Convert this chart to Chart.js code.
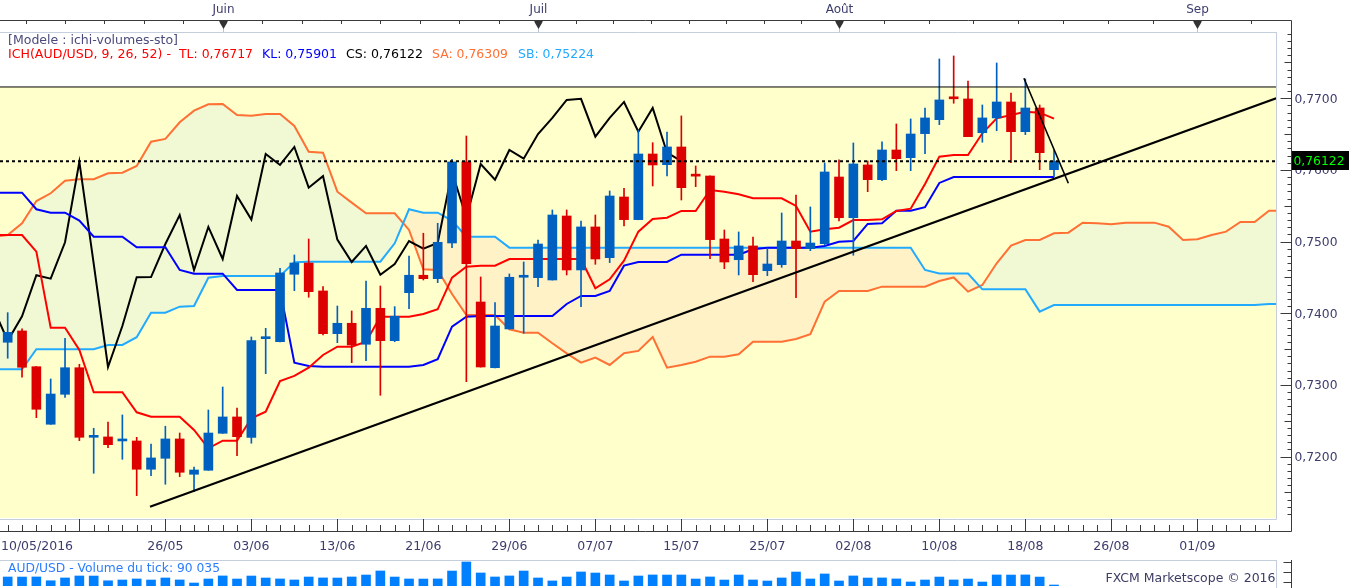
<!DOCTYPE html>
<html><head><meta charset="utf-8">
<script src="https://cdn.jsdelivr.net/npm/chart.js@4.4.0/dist/chart.umd.min.js"></script>
<style>
html,body{margin:0;padding:0;background:#fff;width:1349px;height:588px;overflow:hidden}
#main{position:absolute;left:0;top:0}
#vol{position:absolute;left:0;top:560px}
</style></head><body>
<canvas id="main" width="1349" height="560"></canvas>
<canvas id="vol" width="1349" height="28"></canvas>
<script>
// ---------- DATA ----------
const dates = ['10/05','11/05','12/05','13/05','16/05','17/05','18/05','19/05','20/05','23/05','24/05','25/05','26/05','27/05','30/05','31/05',
'01/06','02/06','03/06','06/06','07/06','08/06','09/06','10/06','13/06','14/06','15/06','16/06','17/06','20/06','21/06','22/06','23/06','24/06','27/06','28/06','29/06','30/06',
'01/07','04/07','05/07','06/07','07/07','08/07','11/07','12/07','13/07','14/07','15/07','18/07','19/07','20/07','21/07','22/07','25/07','26/07','27/07','28/07','29/07',
'01/08','02/08','03/08','04/08','05/08','08/08','09/08','10/08','11/08','12/08','15/08','16/08','17/08','18/08','19/08','22/08'];

const openP = [null,
0.73596,0.73754,0.73255,0.72452,0.72870,0.73241,0.72270,0.72275,0.72219,0.72219,
0.71824,0.71977,0.72247,0.71754,0.71810,0.72326,0.72554,0.72270,0.73646,0.73604,
0.74545,0.74702,0.74312,0.73716,0.73861,0.73568,0.74070,0.73618,0.74288,0.74531,
0.74483,0.74981,0.76112,0.74158,0.73241,0.73782,0.74503,0.74497,0.74465,0.75358,
0.74605,0.75205,0.74776,0.75623,0.75307,0.76223,0.76074,0.76321,0.75916,0.75916,
0.75037,0.74748,0.74940,0.74595,0.74679,0.75009,0.74902,0.74972,0.75902,0.75334,
0.76070,0.75865,0.76279,0.76172,0.76507,0.76702,0.76995,0.76991,0.76520,0.76726,
0.76949,0.76534,0.76865,0.76004];
const highP = [null,
0.74009,0.73782,0.73258,0.73084,0.73652,0.73289,0.72396,0.72484,0.72582,0.72270,
0.72177,0.72424,0.72330,0.71856,0.72651,0.72972,0.72679,0.73670,0.73791,0.74628,
0.74814,0.75037,0.74372,0.74102,0.74033,0.74451,0.74381,0.74093,0.74800,0.75117,
0.75256,0.76149,0.76474,0.74507,0.74148,0.74549,0.74716,0.75023,0.75442,0.75442,
0.75288,0.75372,0.75707,0.75745,0.76558,0.76381,0.76530,0.76754,0.76056,0.75918,
0.75163,0.75135,0.75065,0.74912,0.75400,0.75651,0.75484,0.76098,0.76140,0.76377,
0.76126,0.76391,0.76642,0.76712,0.76865,0.77549,0.77591,0.77242,0.76907,0.77493,
0.77074,0.77270,0.76907,0.76279];
const lowP = [null,
0.73373,0.73108,0.72544,0.72450,0.72828,0.72223,0.71768,0.72125,0.71963,0.71456,
0.71735,0.71615,0.71721,0.71511,0.71808,0.72324,0.72014,0.72187,0.73158,0.73602,
0.74316,0.74224,0.73698,0.73590,0.73311,0.73339,0.72856,0.73604,0.74065,0.74465,
0.74428,0.74916,0.73046,0.73249,0.73239,0.73780,0.73722,0.74372,0.74463,0.74535,
0.74093,0.74684,0.74707,0.75219,0.75305,0.75777,0.75916,0.75581,0.75767,0.74762,
0.74623,0.74535,0.74441,0.74525,0.74642,0.74218,0.74874,0.74949,0.75288,0.74810,
0.75697,0.75851,0.75990,0.75990,0.76227,0.76632,0.76931,0.76463,0.76387,0.76548,
0.76102,0.76493,0.76004,0.75907];
const closeP = [null,
0.73735,0.73247,0.72661,0.72874,0.73241,0.72270,0.72272,0.72167,0.72221,0.71824,
0.71982,0.72247,0.71782,0.71814,0.72330,0.72554,0.72279,0.73618,0.73648,0.74563,
0.74702,0.74302,0.73716,0.73861,0.73558,0.74070,0.73618,0.73959,0.74531,0.74483,
0.74991,0.76112,0.74693,0.73251,0.73823,0.74503,0.74505,0.74967,0.75372,0.74605,
0.75205,0.74758,0.75637,0.75307,0.76223,0.76070,0.76321,0.75753,0.75914,0.75028,
0.74716,0.74940,0.74539,0.74688,0.75009,0.74902,0.74981,0.75972,0.75334,0.76084,
0.75865,0.76279,0.76158,0.76502,0.76726,0.76977,0.76993,0.76465,0.76726,0.76949,
0.76534,0.76865,0.76241,0.76122];

const tenkan = [0.75093,0.75093,0.75093,0.74860,0.73800,0.73800,0.73488,0.72898,0.72898,0.72898,
0.72619,0.72558,0.72558,0.72558,0.72372,0.72117,0.72223,0.72223,0.72536,0.72628,
0.73056,0.73126,0.73241,0.73419,0.73535,0.73535,0.73604,0.73953,0.73953,0.73953,
0.73991,0.74056,0.74497,0.74651,0.74665,0.74665,0.74758,0.74758,0.74758,0.74758,
0.74758,0.74758,0.74349,0.74475,0.74734,0.75139,0.75316,0.75334,0.75428,0.75428,
0.75721,0.75697,0.75661,0.75605,0.75605,0.75605,0.75498,0.75139,0.75173,0.75195,
0.75302,0.75302,0.75312,0.75428,0.75460,0.75805,0.76186,0.76209,0.76209,0.76512,
0.76721,0.76767,0.76813,0.76800,0.76717];
const kijun = [0.75683,0.75683,0.75683,0.75452,0.75404,0.75404,0.75293,0.75069,0.75069,0.75069,
0.74921,0.74921,0.74921,0.74605,0.74553,0.74553,0.74553,0.74326,0.74326,0.74326,
0.74326,0.73311,0.73265,0.73255,0.73255,0.73255,0.73255,0.73255,0.73255,0.73255,
0.73279,0.73359,0.73814,0.73953,0.73963,0.73963,0.73963,0.73963,0.73963,0.73963,
0.74130,0.74242,0.74242,0.74312,0.74665,0.74716,0.74716,0.74716,0.74818,0.74818,
0.74818,0.74818,0.74818,0.74894,0.74916,0.74916,0.74916,0.74916,0.74940,0.74999,
0.75009,0.75247,0.75256,0.75432,0.75432,0.75480,0.75819,0.75901,0.75901,0.75901,
0.75901,0.75901,0.75901,0.75901,0.75901];
const senkouA = [0.75065,0.75093,0.75256,0.75567,0.75675,0.75851,0.75870,0.75870,0.75954,0.75962,
0.76056,0.76395,0.76433,0.76666,0.76827,0.76917,0.76921,0.76767,0.76758,0.76781,
0.76781,0.76614,0.76255,0.76241,0.75697,0.75544,0.75396,0.75396,0.75396,0.75163,
0.74614,0.74605,0.74270,0.73977,0.73977,0.73977,0.73777,0.73730,0.73730,0.73582,
0.73442,0.73311,0.73381,0.73279,0.73442,0.73475,0.73670,0.73241,0.73279,0.73325,
0.73395,0.73395,0.73428,0.73604,0.73604,0.73604,0.73642,0.73708,0.74162,0.74312,
0.74312,0.74312,0.74372,0.74372,0.74372,0.74372,0.74451,0.74500,0.74302,0.74395,
0.74698,0.74944,0.75023,0.75023,0.75117,0.75125,0.75265,0.75256,0.75242,0.75265,
0.75265,0.75265,0.75209,0.75023,0.75033,0.75093,0.75139,0.75274,0.75274,0.75432,
0.75432];
const senkouB = [0.73219,0.73219,0.73219,0.73498,0.73498,0.73498,0.73498,0.73498,0.73558,0.73558,
0.73666,0.74009,0.74009,0.74093,0.74102,0.74497,0.74521,0.74521,0.74521,0.74521,
0.74521,0.74712,0.74720,0.74720,0.74720,0.74720,0.74720,0.74720,0.74977,0.75452,
0.75404,0.75404,0.75293,0.75069,0.75069,0.75069,0.74916,0.74916,0.74916,0.74916,
0.74916,0.74916,0.74916,0.74916,0.74916,0.74916,0.74916,0.74916,0.74916,0.74916,
0.74916,0.74916,0.74916,0.74916,0.74916,0.74916,0.74916,0.74916,0.74916,0.74916,
0.74916,0.74916,0.74916,0.74916,0.74916,0.74605,0.74556,0.74556,0.74556,0.74335,
0.74335,0.74335,0.74335,0.74023,0.74116,0.74116,0.74116,0.74116,0.74116,0.74116,
0.74116,0.74116,0.74116,0.74116,0.74116,0.74116,0.74116,0.74116,0.74116,0.74130,
0.74130];
const volumes = [null,
811000,806000,815000,472000,724000,902000,897000,468000,541000,633000,
538000,722000,545000,268000,630000,905000,628000,898000,719000,634000,
542000,809000,726000,718000,813000,988000,1352000,807000,631000,627000,
636000,1347000,2161000,1172000,812000,903000,1349000,721000,455000,808000,
1262000,1168000,992000,452000,899000,994000,987000,991000,629000,814000,
537000,989000,543000,449000,723000,1258000,632000,1083000,451000,904000,
717000,727000,635000,362000,539000,806000,544000,626000,358000,993000,
986000,996000,805000,90035];

const lastClose = 0.76122;
const refLevel = 0.77158;
const trendUp = [[10.93, 0.71302], [89.5, 0.77000]];
const trendDown = [[71.9, 0.77279], [75.0, 0.75814]];
const priceTicks = [0.72, 0.73, 0.74, 0.75, 0.76, 0.77];
const dateTickIdx = [6, 12, 18, 24, 30, 36, 42, 48, 54, 60, 66, 72, 78, 84];
const dateTickLabels = ['', '26/05', '03/06', '13/06', '21/06', '29/06', '07/07', '15/07', '25/07', '02/08', '10/08', '18/08', '26/08', '01/09'];
const firstDateLabel = '10/05/2016';
const monthLabels = ['Juin', 'Juil', 'Août', 'Sep'];
const monthIdx = [16, 38, 59, 84];
const monthBounds = [-6, 16, 38, 59, 84, 114];
const legendTitle = '[Modele : ichi-volumes-sto]';
const legendParts = ['ICH(AUD/USD, 9, 26, 52) -', 'TL: 0,76717', 'KL: 0,75901', 'CS: 0,76122', 'SA: 0,76309', 'SB: 0,75224'];
const volumeTitle = 'AUD/USD - Volume du tick: 90 035';
const copyright = 'FXCM Marketscope © 2016';

// ---------- STYLE ----------
const BLUE = '#0060c0', RED = '#dd0000';
const C_TL = '#ff0000', C_KL = '#0000ff', C_SA = '#ff7034', C_SB = '#22aaff', C_CS = '#000000';
const FILL_UP = '#f1f9d4', FILL_DN = '#fff2c6', BG_Y = '#ffffcc';
const TXT = '#3c3c6c', FRAME = '#c4cedd', AXC = '#3a3a3a';
const FONT = '"DejaVu Sans", Verdana, sans-serif';
const X_MIN = 0.463, X_MAX = 89.488, Y_MIN = 0.71144, Y_MAX = 0.779251;
const AX = 1291.5, TOPY = 20.5, BOTY = 531.5;

function pts(arr){ const o=[]; arr.forEach((v,i)=>{ if(v!=null) o.push({x:i,y:v}); }); return o; }
const chikou = closeP.slice(26);

const bodyData=[], bodyCol=[], wickData=[], wickCol=[];
for (let i=0;i<dates.length;i++){
  if (openP[i]==null) continue;
  const c = closeP[i] >= openP[i] ? BLUE : RED;
  bodyData.push({x:i, y:[openP[i], closeP[i]]}); bodyCol.push(c);
  wickData.push({x:i, y:[lowP[i], highP[i]]}); wickCol.push(c);
}

function lineDs(data, color, order, extra){
  return Object.assign({type:'line', data, borderColor:color, borderWidth:2, pointRadius:0, tension:0, fill:false, order, spanGaps:true}, extra||{});
}

function fitText(ctx, text, x, y, w, size, color, align){
  ctx.save(); ctx.font = size+'px '+FONT; ctx.fillStyle=color; ctx.textBaseline='middle'; ctx.textAlign='left';
  const m = ctx.measureText(text).width; const s = w/m;
  const x0 = align==='center' ? x-w/2 : (align==='right' ? x-w : x);
  ctx.translate(x0, y); ctx.scale(s,1); ctx.fillText(text,0,0); ctx.restore();
}
function txt(ctx, text, x, y, size, color, align){
  ctx.save(); ctx.font = size+'px '+FONT; ctx.fillStyle=color; ctx.textBaseline='middle'; ctx.textAlign=align||'left';
  ctx.fillText(text,x,y); ctx.restore();
}
function seg(ctx,x1,y1,x2,y2){ ctx.beginPath(); ctx.moveTo(x1,y1); ctx.lineTo(x2,y2); ctx.stroke(); }

const bgPlugin = {
  id:'bg',
  beforeDraw(chart){
    const {ctx, chartArea:a, scales:{y}} = chart;
    ctx.save(); ctx.fillStyle='#fff'; ctx.fillRect(0,0,chart.width,chart.height);
    const yt = y.getPixelForValue(refLevel);
    ctx.fillStyle=BG_Y; ctx.fillRect(a.left, yt, a.right-a.left, a.bottom-yt);
    ctx.restore();
  }
};

const axisPlugin = {
  id:'axes',
  afterDraw(chart){
    const {ctx, chartArea:a, scales:{x:xs, y:ys}} = chart;
    ctx.save(); ctx.lineWidth=1;
    // inner frame
    ctx.strokeStyle=FRAME;
    seg(ctx,0,a.top+0.5,a.right+0.5,a.top+0.5);
    seg(ctx,a.right+0.5,a.top,a.right+0.5,a.bottom+1.5);
    seg(ctx,0,a.bottom+1.5,a.right+0.5,a.bottom+1.5);
    // axis box
    ctx.strokeStyle=AXC;
    ctx.beginPath(); ctx.moveTo(0,TOPY); ctx.lineTo(AX,TOPY); ctx.lineTo(AX,BOTY); ctx.lineTo(0,BOTY); ctx.stroke();
    // top ticks
    for (let m=0;m<monthBounds.length-1;m++){
      const s=monthBounds[m], e=monthBounds[m+1];
      for (let k=1;k<8;k++){
        const px=Math.round(xs.getPixelForValue(s+(e-s)*k/8))+0.5;
        if (px<0||px>AX-3) continue;
        seg(ctx,px,TOPY,px,24);
      }
    }
    // month markers + labels
    monthIdx.forEach((v,i)=>{
      const px=Math.round(xs.getPixelForValue(v))+0.5;
      ctx.strokeStyle='#b8c4d6'; seg(ctx,px,27,px,a.top);
      ctx.fillStyle='#333'; ctx.beginPath(); ctx.moveTo(px-4.5,TOPY); ctx.lineTo(px+4.5,TOPY); ctx.lineTo(px+3.5,23); ctx.lineTo(px,29); ctx.lineTo(px-3.5,23); ctx.closePath(); ctx.fill();
      txt(ctx, monthLabels[i], px, 9.5, 12, TXT, 'center');
    });
    // bottom ticks
    ctx.strokeStyle=AXC;
    for (let i=Math.ceil(X_MIN); i<=Math.floor(X_MAX); i++){
      const px=Math.round(xs.getPixelForValue(i))+0.5;
      const major = dateTickIdx.includes(i);
      seg(ctx,px, major? a.bottom+1 : 525, px, BOTY);
    }
    // date labels
    txt(ctx, firstDateLabel, 1, 547, 12.5, TXT, 'left');
    dateTickIdx.forEach((v,i)=>{ if(dateTickLabels[i]) txt(ctx, dateTickLabels[i], xs.getPixelForValue(v), 547, 12.5, TXT, 'center'); });
    // right ticks
    for (let k=712;k<=779;k++){
      const py=Math.round(ys.getPixelForValue(k/1000))+0.5;
      if (py<a.top||py>a.bottom) continue;
      const len = (k%10===0)?11:((k%5===0)?7:4);
      seg(ctx,AX-len,py,AX,py);
    }
    priceTicks.forEach(v=>{
      const py=ys.getPixelForValue(v);
      fitText(ctx, v.toFixed(4).replace('.',','), 1294.5, py+1.2, 43, 12.5, TXT, 'left');
    });
    // price tag
    const pl = ys.getPixelForValue(lastClose);
    ctx.fillStyle='#000'; ctx.fillRect(1292, Math.round(pl)-10, 57, 19);
    fitText(ctx, lastClose.toFixed(5).replace('.',','), 1293.5, pl+0.5, 51, 13, '#00ff00', 'left');
    // legend
    fitText(ctx, legendTitle, 8, 41, 170, 12, '#4a4a7c', 'left');
    const lx=[8,179,262,346,432,518], lw=[163,74,75,77,76,76], lc=[C_TL,C_TL,C_KL,C_CS,C_SA,C_SB];
    legendParts.forEach((t,i)=>fitText(ctx, t, lx[i], 55, lw[i], 12, lc[i], 'left'));
    ctx.restore();
  }
};

new Chart(document.getElementById('main'), {
  type:'bar',
  data:{datasets:[
    lineDs(pts(senkouA), C_SA, 20, {fill:{target:1, above:FILL_UP, below:FILL_DN}}),
    lineDs(pts(senkouB), C_SB, 19),
    lineDs(pts(tenkan), C_TL, 15),
    lineDs(pts(kijun), C_KL, 15),
    lineDs(pts(chikou), C_CS, 15),
    {type:'bar', data:wickData, backgroundColor:wickCol, barThickness:1, grouped:false, order:10, borderWidth:0},
    {type:'bar', data:bodyData, backgroundColor:bodyCol, barThickness:9, minBarLength:2, grouped:false, order:9, borderWidth:0},
    lineDs([{x:X_MIN,y:refLevel},{x:X_MAX,y:refLevel}], '#000', 5, {borderWidth:1}),
    lineDs([{x:X_MIN,y:lastClose},{x:X_MAX,y:lastClose}], '#000', 4, {borderDash:[3,3]}),
    lineDs(trendUp.map(p=>({x:p[0],y:p[1]})), '#000', 3, {borderWidth:2.2}),
    lineDs(trendDown.map(p=>({x:p[0],y:p[1]})), '#000', 3, {borderWidth:1.6})
  ]},
  options:{
    responsive:false, animation:false, events:[],
    layout:{padding:{left:0,right:73,top:32,bottom:42}},
    plugins:{legend:{display:false}, tooltip:{enabled:false}, title:{display:false}},
    scales:{
      x:{type:'linear', min:X_MIN, max:X_MAX, display:false, offset:false},
      y:{type:'linear', min:Y_MIN, max:Y_MAX, display:false}
    }
  },
  plugins:[bgPlugin, axisPlugin]
});

const volPlugin = {
  id:'volaxes',
  beforeDraw(chart){ const c=chart.ctx; c.save(); c.fillStyle='#fff'; c.fillRect(0,0,chart.width,chart.height); c.restore(); },
  afterDraw(chart){
    const {ctx, chartArea:a} = chart;
    ctx.save(); ctx.lineWidth=1;
    ctx.strokeStyle=FRAME; seg(ctx,0,0.5,a.right+0.5,0.5); seg(ctx,a.right+0.5,0,a.right+0.5,chart.height);
    ctx.strokeStyle=AXC; seg(ctx,AX,0,AX,chart.height);
    [2,12,22].forEach(y=>seg(ctx,AX-8,y+0.5,AX,y+0.5));
    fitText(ctx, volumeTitle, 8, 8.5, 212, 12.5, '#2a7dff', 'left');
    fitText(ctx, copyright, 1275.5, 18.5, 170, 12.5, '#3c3c64', 'right');
    ctx.restore();
  }
};
new Chart(document.getElementById('vol'), {
  type:'bar',
  data:{datasets:[{data:pts(volumes), backgroundColor:'#0080ff', barThickness:9, borderWidth:0, grouped:false}]},
  options:{
    responsive:false, animation:false, events:[],
    layout:{padding:{left:0,right:73,top:0,bottom:2}},
    plugins:{legend:{display:false}, tooltip:{enabled:false}},
    scales:{
      x:{type:'linear', min:X_MIN, max:X_MAX, display:false, offset:false},
      y:{type:'linear', min:0, max:2340000, display:false}
    }
  },
  plugins:[volPlugin]
});
</script>
</body></html>
